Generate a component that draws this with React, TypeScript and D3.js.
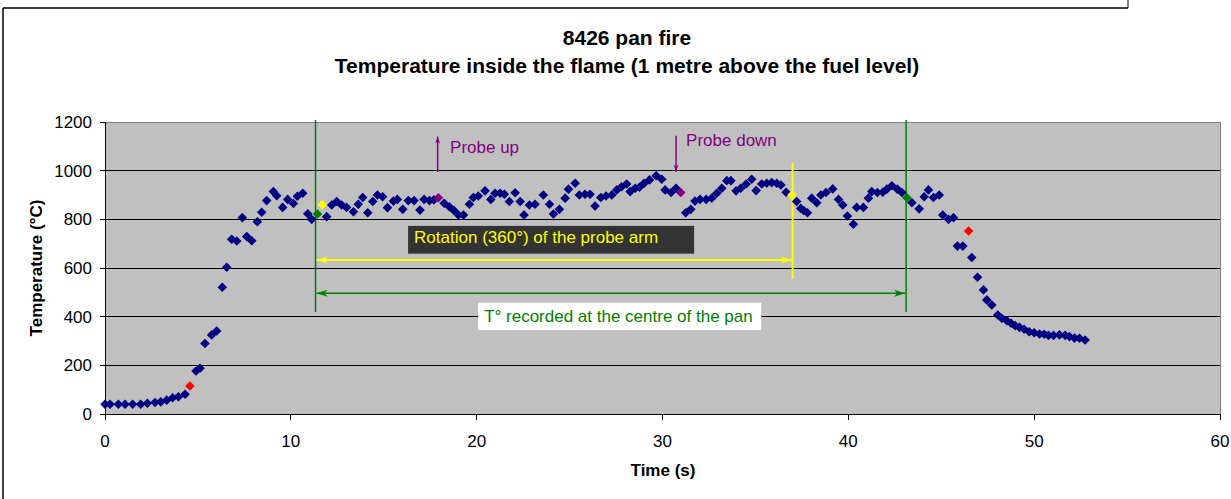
import { useMemo } from "react";
import * as d3 from "d3";

const WIDTH = 1231;
const HEIGHT = 499;
const MARGIN = { top: 122, right: 11, bottom: 85, left: 105 };
const FONT = "'Liberation Sans', Arial, sans-serif";

// main series (navy diamonds), time in s / temperature in °C
const TIME = [
  0, 0.27, 0.72, 1.08, 1.49, 1.92, 2.28, 2.69, 3.0, 3.32, 3.64, 3.95, 4.31,
  4.9, 5.11, 5.38, 5.74, 6.01, 6.31, 6.55, 6.82, 7.09, 7.39, 7.63, 7.9, 8.2,
  8.43, 8.7, 9.06, 9.24, 9.56, 9.83, 10.14, 10.35, 10.64, 10.91, 11.12,
  11.93, 12.2, 12.47, 12.73, 13.0, 13.37, 13.63, 13.87, 14.14, 14.41, 14.66,
  14.94, 15.2, 15.52, 15.73, 16.02, 16.32, 16.63, 16.95, 17.17, 17.46, 17.7,
  18.25, 18.53, 18.78, 19.02, 19.29, 19.61, 19.82, 20.09, 20.45, 20.76,
  20.99, 21.26, 21.49, 21.76, 22.07, 22.34, 22.55, 22.84, 23.14, 23.59,
  23.92, 24.13, 24.45, 24.76, 24.94, 25.3, 25.53, 25.83, 26.1, 26.37, 26.68,
  26.96, 27.27, 27.54, 27.8, 28.07, 28.26, 28.53, 28.76, 29.01, 29.3, 29.66,
  29.96, 30.14, 30.46, 30.73,
  31.25, 31.52, 31.75, 32.02, 32.35, 32.65, 32.92, 33.19, 33.46, 33.68,
  33.96, 34.21, 34.5, 34.8, 35.04, 35.34, 35.61, 35.88, 36.15, 36.37, 36.65,
  37.22, 37.44, 37.6, 37.8, 38.03, 38.3, 38.52, 38.8, 39.16, 39.47, 39.7,
  39.95, 40.27, 40.45, 40.81, 41.08, 41.26, 41.56, 41.85, 42.07, 42.34,
  42.64, 42.88,
  43.42, 43.81, 44.08, 44.31, 44.58, 44.89, 45.08, 45.39, 45.66, 45.87,
  46.16, 46.64, 46.95, 47.27, 47.45, 47.72, 48.04, 48.26, 48.53, 48.76,
  48.98, 49.21, 49.46, 49.73, 50.0, 50.29, 50.54, 50.77, 51.04, 51.36,
  51.67, 51.9, 52.17, 52.44, 52.74,
];
const TEMP = [
  40, 40, 40, 40, 40, 40, 44, 47, 50, 57, 67, 71, 81,
  177, 188, 290, 325, 341, 521, 603, 718, 711, 807, 729, 712, 790,
  829, 877, 914, 897, 849, 882, 865, 895, 907, 823, 800,
  811, 859, 873, 859, 849, 831, 862, 890, 827, 873, 900,
  893, 848, 875, 882, 841, 877, 877, 838, 882, 877, 880,
  866, 852, 836, 818, 818, 862, 890, 896, 917, 882,
  907, 907, 903, 873, 909, 873, 818, 859, 862, 900,
  862, 822, 841, 887, 924, 948, 900, 903, 903, 855, 890,
  896, 900, 921, 934, 945, 914, 928, 932, 948, 962, 979,
  965, 921, 910, 928,
  827, 841, 875, 882, 882, 887, 907, 928, 959, 959,
  917, 928, 945, 965, 918, 945, 948, 951, 948, 941, 911,
  873, 845, 836, 827, 887, 868, 900, 910, 925, 882, 859,
  814, 780, 849, 849, 887, 914, 910, 911, 924, 938,
  924, 910,
  868, 843, 893, 921, 890, 900, 818, 800, 807, 690,
  690, 643, 562, 510, 469, 448, 407, 393, 383, 373,
  363, 356, 348, 338, 334, 329, 328, 323, 323, 325,
  323, 318, 312, 311, 304,
];

// highlighted readings
const RED_TIME = [4.57, 46.47];
const RED_TEMP = [115, 752];
const GREEN_TIME = [11.43, 43.15];
const GREEN_TEMP = [822, 889];
const YELLOW_TIME = [11.7, 36.97];
const YELLOW_TEMP = [860, 900];
const PURPLE_TIME = [17.94, 30.98];
const PURPLE_TEMP = [889, 910];

const X_TICKS = [0, 10, 20, 30, 40, 50, 60];
const Y_TICKS = [0, 200, 400, 600, 800, 1000, 1200];

// annotation anchors (data units)
const CENTRE_START = 11.33;
const CENTRE_END = 43.11;
const ROTATION_END = 37.0;
const PROBE_UP = 17.9;
const PROBE_DOWN = 30.73;

const NAVY = "#000080";
const GREEN = "#008000";
const YELLOW = "#FFFF00";
const PURPLE = "#800080";

function App() {
  const boundsWidth = WIDTH - MARGIN.left - MARGIN.right;
  const boundsHeight = HEIGHT - MARGIN.top - MARGIN.bottom;

  const xScale = useMemo(
    () => d3.scaleLinear().domain([0, 60]).range([0, boundsWidth]),
    [boundsWidth]
  );
  const yScale = useMemo(
    () => d3.scaleLinear().domain([0, 1200]).range([boundsHeight, 0]),
    [boundsHeight]
  );

  const diamond = d3.symbol(d3.symbolSquare, 46)() as string;

  const drawPoints = (ts: number[], vs: number[], color: string, key: string) =>
    ts.map((t, i) => (
      <path
        key={key + i}
        d={diamond}
        fill={color}
        transform={`translate(${xScale(t)},${yScale(vs[i])}) rotate(45)`}
      />
    ));

  const yGrid = Y_TICKS.slice(1, -1).map((v) => (
    <line
      key={v}
      x1={0}
      x2={boundsWidth}
      y1={yScale(v)}
      y2={yScale(v)}
      stroke="#000"
      strokeWidth={1}
      shapeRendering="crispEdges"
    />
  ));

  const yAxis = Y_TICKS.map((v) => (
    <g key={v}>
      <line x1={-5} x2={0} y1={yScale(v)} y2={yScale(v)} stroke="#000" shapeRendering="crispEdges" />
      <text x={-13} y={yScale(v) + 6} textAnchor="end" fontSize={17}>
        {v}
      </text>
    </g>
  ));

  const xAxis = X_TICKS.map((v) => (
    <g key={v}>
      <line
        x1={xScale(v)}
        x2={xScale(v)}
        y1={boundsHeight}
        y2={boundsHeight + 6}
        stroke="#000"
        shapeRendering="crispEdges"
      />
      <text x={xScale(v)} y={boundsHeight + 33} textAnchor="middle" fontSize={17}>
        {v}
      </text>
    </g>
  ));

  const rotBox = {
    x0: xScale(16.31),
    x1: xScale(31.7),
    y0: yScale(773),
    y1: yScale(659),
  };
  const centreBox = {
    x0: xScale(20.08),
    x1: xScale(35.31),
    y0: yScale(457),
    y1: yScale(345),
  };

  return (
    <div style={{ position: "absolute", left: 0, top: 0 }}>
      <svg width={WIDTH} height={HEIGHT} fontFamily={FONT} style={{ display: "block" }}>
        <defs>
          <marker
            id="arrowYellow"
            viewBox="0 -5 12 10"
            refX={11}
            refY={0}
            markerWidth={12}
            markerHeight={10}
            markerUnits="userSpaceOnUse"
            orient="auto-start-reverse"
          >
            <path d="M0,-3.5 L11,0 L0,3.5 L3,0 Z" fill={YELLOW} />
          </marker>
          <marker
            id="arrowGreen"
            viewBox="0 -5 12 10"
            refX={11}
            refY={0}
            markerWidth={12}
            markerHeight={10}
            markerUnits="userSpaceOnUse"
            orient="auto-start-reverse"
          >
            <path d="M0,-3.5 L11,0 L0,3.5 L3,0 Z" fill={GREEN} />
          </marker>
          <marker
            id="arrowPurple"
            viewBox="0 -4 8 8"
            refX={7}
            refY={0}
            markerWidth={8}
            markerHeight={8}
            markerUnits="userSpaceOnUse"
            orient="auto"
          >
            <path d="M0,-2.5 L7,0 L0,2.5 L2,0 Z" fill={PURPLE} />
          </marker>
        </defs>

        {/* frame of the chart object */}
        <rect x={0} y={0} width={WIDTH} height={HEIGHT} fill="#fff" />
        <line x1={3} x2={1128} y1={8} y2={8} stroke="#000" strokeWidth={1.5} />
        <line x1={1128} x2={1128} y1={0} y2={8} stroke="#000" strokeWidth={1} />
        <line x1={3} x2={3} y1={8} y2={HEIGHT} stroke="#000" strokeWidth={1.5} />

        {/* titles */}
        <text x={627} y={45} textAnchor="middle" fontSize={21} fontWeight="bold">
          8426 pan fire
        </text>
        <text x={627} y={73} textAnchor="middle" fontSize={21} fontWeight="bold">
          Temperature inside the flame (1 metre above the fuel level)
        </text>

        <g transform={`translate(${MARGIN.left},${MARGIN.top})`}>
          <rect
            x={0}
            y={0}
            width={boundsWidth}
            height={boundsHeight}
            fill="#C0C0C0"
            stroke="#808080"
            strokeWidth={1}
            shapeRendering="crispEdges"
          />
          {yGrid}
          <line x1={0} x2={0} y1={0} y2={boundsHeight} stroke="#000" shapeRendering="crispEdges" />
          <line
            x1={0}
            x2={boundsWidth}
            y1={boundsHeight}
            y2={boundsHeight}
            stroke="#000"
            shapeRendering="crispEdges"
          />
          {yAxis}
          {xAxis}

          {/* annotations */}
          <line
            x1={xScale(CENTRE_START)}
            x2={xScale(CENTRE_START)}
            y1={yScale(1208)}
            y2={yScale(419)}
            stroke={GREEN}
            strokeWidth={1.5}
          />
          <line
            x1={xScale(CENTRE_END)}
            x2={xScale(CENTRE_END)}
            y1={yScale(1208)}
            y2={yScale(419)}
            stroke={GREEN}
            strokeWidth={1.5}
          />
          <line
            x1={xScale(ROTATION_END)}
            x2={xScale(ROTATION_END)}
            y1={yScale(1033)}
            y2={yScale(555)}
            stroke={YELLOW}
            strokeWidth={2}
          />
          <line
            x1={xScale(CENTRE_START) + 1}
            x2={xScale(ROTATION_END) - 1}
            y1={yScale(633)}
            y2={yScale(633)}
            stroke={YELLOW}
            strokeWidth={2}
            markerStart="url(#arrowYellow)"
            markerEnd="url(#arrowYellow)"
          />
          <line
            x1={xScale(CENTRE_START) + 1}
            x2={xScale(CENTRE_END) - 1}
            y1={yScale(496)}
            y2={yScale(496)}
            stroke={GREEN}
            strokeWidth={1.5}
            markerStart="url(#arrowGreen)"
            markerEnd="url(#arrowGreen)"
          />
          <line
            x1={xScale(PROBE_UP)}
            x2={xScale(PROBE_UP)}
            y1={yScale(995)}
            y2={yScale(1140)}
            stroke={PURPLE}
            strokeWidth={1.5}
            markerEnd="url(#arrowPurple)"
          />
          <text x={xScale(18.57)} y={yScale(1073)} fontSize={17} fill={PURPLE}>
            Probe up
          </text>
          <line
            x1={xScale(PROBE_DOWN)}
            x2={xScale(PROBE_DOWN)}
            y1={yScale(1143)}
            y2={yScale(996)}
            stroke={PURPLE}
            strokeWidth={1.5}
            markerEnd="url(#arrowPurple)"
          />
          <text x={xScale(31.27)} y={yScale(1101)} fontSize={17} fill={PURPLE}>
            Probe down
          </text>

          <rect
            x={rotBox.x0}
            y={rotBox.y0}
            width={rotBox.x1 - rotBox.x0}
            height={rotBox.y1 - rotBox.y0}
            fill="#333333"
          />
          <text x={rotBox.x0 + 6} y={rotBox.y0 + 17.5} fontSize={17} fill={YELLOW}>
            Rotation (360°) of the probe arm
          </text>
          <rect
            x={centreBox.x0}
            y={centreBox.y0}
            width={centreBox.x1 - centreBox.x0}
            height={centreBox.y1 - centreBox.y0}
            fill="#fff"
          />
          <text x={centreBox.x0 + 6} y={centreBox.y0 + 19} fontSize={17} fill={GREEN}>
            T° recorded at the centre of the pan
          </text>

          {/* data */}
          {drawPoints(TIME, TEMP, NAVY, "n")}
          {drawPoints(RED_TIME, RED_TEMP, "#FF0000", "r")}
          {drawPoints(GREEN_TIME, GREEN_TEMP, GREEN, "g")}
          {drawPoints(YELLOW_TIME, YELLOW_TEMP, YELLOW, "y")}
          {drawPoints(PURPLE_TIME, PURPLE_TEMP, PURPLE, "p")}
        </g>

        {/* axis titles */}
        <text x={663} y={476} textAnchor="middle" fontSize={17} fontWeight="bold">
          Time (s)
        </text>
        <text
          transform={`translate(42,${MARGIN.top + boundsHeight / 2}) rotate(-90)`}
          textAnchor="middle"
          fontSize={17}
          fontWeight="bold"
        >
          Temperature (°C)
        </text>
      </svg>
    </div>
  );
}

export default App;
